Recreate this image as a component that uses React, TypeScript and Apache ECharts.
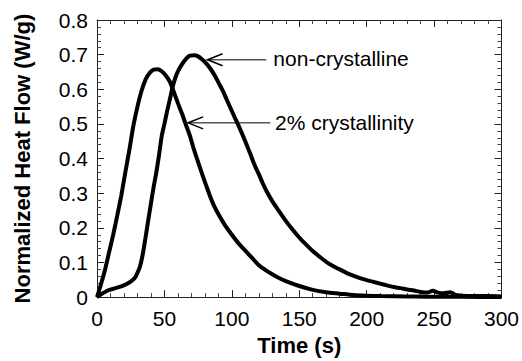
import React, { useEffect, useRef } from "react";
import * as echarts from "echarts";

// Time (s) and normalized heat flow (W/g), non-crystalline sample
const T_NONCRYS = [0, 3, 8, 13, 18, 22, 25, 28, 30, 32, 34, 36, 38, 40, 42, 44, 46, 48, 50, 52, 54, 56, 58, 60, 63, 66, 69, 72, 75, 78, 81, 84, 87, 90, 93, 96, 99, 102, 105, 108, 111, 114, 117, 120, 123, 126, 130, 135, 140, 145, 150, 155, 160, 165, 170, 175, 180, 185, 190, 195, 200, 205, 210, 215, 220, 225, 230, 235, 240, 245, 249, 253, 257, 262, 266, 270, 280, 290, 300];
const V_NONCRYS = [0, 0.008, 0.019, 0.025, 0.031, 0.038, 0.045, 0.055, 0.07, 0.09, 0.125, 0.172, 0.222, 0.27, 0.318, 0.36, 0.41, 0.465, 0.5, 0.537, 0.57, 0.605, 0.632, 0.652, 0.672, 0.688, 0.697, 0.698, 0.695, 0.686, 0.675, 0.66, 0.642, 0.62, 0.598, 0.572, 0.546, 0.52, 0.495, 0.468, 0.44, 0.41, 0.38, 0.355, 0.328, 0.304, 0.277, 0.248, 0.22, 0.195, 0.172, 0.152, 0.133, 0.117, 0.102, 0.09, 0.08, 0.07, 0.062, 0.055, 0.049, 0.044, 0.039, 0.034, 0.029, 0.026, 0.022, 0.019, 0.015, 0.013, 0.018, 0.013, 0.011, 0.014, 0.006, 0.004, 0.003, 0.003, 0.002];

// 2% crystallinity sample
const T_CRYS2 = [0, 3, 6, 9, 12, 15, 18, 21, 24, 27, 30, 33, 36, 39, 42, 45, 48, 51, 54, 57, 60, 63, 66, 69, 72, 75, 78, 81, 84, 87, 90, 95, 100, 105, 110, 115, 120, 125, 130, 135, 140, 150, 160, 170, 180, 190, 200, 210, 230, 250, 270, 300];
const V_CRYS2 = [0, 0.038, 0.08, 0.13, 0.18, 0.235, 0.293, 0.36, 0.425, 0.495, 0.55, 0.595, 0.628, 0.647, 0.657, 0.658, 0.652, 0.64, 0.622, 0.592, 0.56, 0.53, 0.497, 0.465, 0.425, 0.39, 0.355, 0.322, 0.29, 0.262, 0.24, 0.207, 0.18, 0.155, 0.134, 0.113, 0.092, 0.078, 0.066, 0.055, 0.046, 0.032, 0.021, 0.014, 0.01, 0.006, 0.004, 0.003, 0.002, 0.001, 0.001, 0];

// Annotations (data coordinates)
const ANNOT_LABELS = ["non-crystalline", "2% crystallinity"];
const ANNOT_TIP = [[82, 0.685], [67.6, 0.503]];
const ANNOT_TAIL = [[125.5, 0.685], [128.5, 0.503]];
const ANNOT_TEXT = [[130.8, 0.69], [132, 0.505]];

const FONT = "'Liberation Sans', Arial, Helvetica, sans-serif";

const pairs = (t: number[], v: number[]) => t.map((x, i) => [x, v[i]]);

export default function App() {
  const ref = useRef<HTMLDivElement>(null);
  useEffect(() => {
    if (!ref.current) return;
    const chart = echarts.init(ref.current, null, { renderer: "svg" });
    const tick = { show: true, inside: true, length: 7, lineStyle: { color: "#222", width: 1 } };
    const minor = { show: true, splitNumber: 5, length: 4, lineStyle: { color: "#444", width: 1 } };
    const line = { show: true, onZero: false, lineStyle: { color: "#222", width: 1 } };
    const label = { fontSize: 21, fontFamily: FONT, color: "#000" };
    const nameStyle = { fontSize: 22, fontWeight: "bold", fontFamily: FONT, color: "#000" };
    chart.setOption({
      animation: false,
      backgroundColor: "#fff",
      grid: { left: 97, right: 20, top: 20, bottom: 56 },
      xAxis: [
        {
          type: "value", min: 0, max: 300, interval: 50, position: "bottom",
          axisLine: line, axisTick: tick, minorTick: minor, splitLine: { show: false },
          axisLabel: { ...label, margin: 11 },
          name: "Time (s)", nameLocation: "middle", nameGap: 25, nameTextStyle: nameStyle,
        },
        {
          type: "value", min: 0, max: 300, interval: 50, position: "top",
          axisLine: line, axisTick: tick, minorTick: minor, splitLine: { show: false },
          axisLabel: { show: false },
        },
      ],
      yAxis: [
        {
          type: "value", min: 0, max: 0.8, interval: 0.1, position: "left",
          axisLine: line, axisTick: tick, minorTick: minor, splitLine: { show: false },
          axisLabel: { ...label, margin: 9, formatter: (v: number) => (v === 0 ? "0" : v.toFixed(1)) },
          name: "Normalized Heat Flow (W/g)", nameLocation: "middle", nameGap: 64, nameTextStyle: nameStyle,
        },
        {
          type: "value", min: 0, max: 0.8, interval: 0.1, position: "right",
          axisLine: line, axisTick: tick, minorTick: minor, splitLine: { show: false },
          axisLabel: { show: false },
        },
      ],
      series: [
        {
          name: "non-crystalline", type: "line", xAxisIndex: 0, yAxisIndex: 0,
          data: pairs(T_NONCRYS, V_NONCRYS), showSymbol: false, smooth: 0.25,
          lineStyle: { color: "#000", width: 4 },
        },
        {
          name: "2% crystallinity", type: "line", xAxisIndex: 0, yAxisIndex: 0,
          data: pairs(T_CRYS2, V_CRYS2), showSymbol: false, smooth: 0.25,
          lineStyle: { color: "#000", width: 4 },
        },
      ],
    });
    const graphics: any[] = [];
    ANNOT_LABELS.forEach((text, i) => {
      const tip = chart.convertToPixel({ gridIndex: 0 }, ANNOT_TIP[i]) as number[];
      const tail = chart.convertToPixel({ gridIndex: 0 }, ANNOT_TAIL[i]) as number[];
      const tp = chart.convertToPixel({ gridIndex: 0 }, ANNOT_TEXT[i]) as number[];
      graphics.push(
        { type: "line", shape: { x1: tail[0], y1: tail[1], x2: tip[0], y2: tip[1] }, style: { stroke: "#000", lineWidth: 1 } },
        {
          type: "polyline",
          shape: { points: [[tip[0] + 15, tip[1] - 6], [tip[0], tip[1]], [tip[0] + 15, tip[1] + 6]] },
          style: { stroke: "#000", lineWidth: 1.6, fill: null },
        },
        {
          type: "text", x: tp[0], y: tp[1],
          style: { text, fontSize: 21, fontFamily: FONT, fill: "#000", align: "left", verticalAlign: "middle" },
        }
      );
    });
    chart.setOption({ graphic: graphics });
    return () => chart.dispose();
  }, []);
  return <div ref={ref} style={{ width: 522, height: 361, position: "absolute", left: 0, top: 0 }} />;
}
